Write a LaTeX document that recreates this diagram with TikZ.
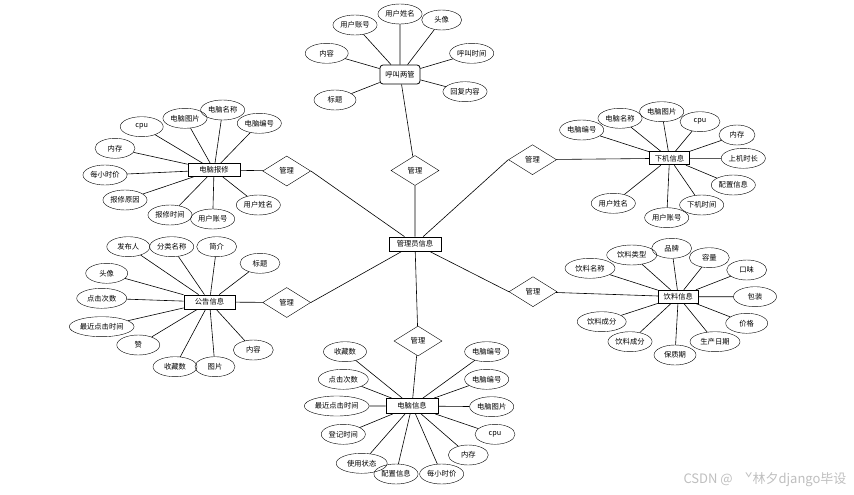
\documentclass[tikz,border=0pt]{standalone}
\usepackage{fontspec}
\setmainfont{Noto Sans CJK SC}
\usetikzlibrary{shapes.geometric}
\tikzset{
  attr/.style={draw,ellipse,inner sep=1pt,minimum width=40pt,minimum height=20pt,font=\fontsize{7.3}{8}\selectfont},
  ent/.style={draw,thick,rectangle,inner sep=1pt,minimum width=52pt,minimum height=14pt,font=\fontsize{7.3}{8}\selectfont},
  rel/.style={draw,diamond,inner sep=0pt,minimum width=48pt,minimum height=30pt,font=\fontsize{7.3}{8}\selectfont},
  link/.style={draw,line width=0.6pt}
}
\begin{document}
\begin{tikzpicture}[x=1pt,y=-1pt]
\useasboundingbox[fill=white] (0,0) rectangle (854,495);

% centre
\node[ent] (admin) at (415,244) {管理员信息};

% relations
\node[rel] (mTop) at (415,170.5) {管理};
\node[rel] (mRep) at (286.7,171) {管理};
\node[rel] (mOff) at (532.5,159.7) {管理};
\node[rel] (mNote) at (286.7,302.5) {管理};
\node[rel] (mDrink) at (533,291.7) {管理};
\node[rel] (mPc) at (418,341) {管理};

% entities
\node[ent,rounded corners=3pt,minimum width=40pt,minimum height=19pt] (call) at (400,74.5) {呼叫两管};
\node[ent,minimum height=13pt] (rep) at (214,170) {电脑报修};
\node[ent,minimum width=40pt,minimum height=13pt] (off) at (669.5,158.3) {下机信息};
\node[ent,minimum width=51pt] (note) at (209.5,302) {公告信息};
\node[ent,minimum width=40pt,minimum height=13pt] (drink) at (678.3,296.7) {饮料信息};
\node[ent,minimum height=15pt] (pc) at (412,406) {电脑信息};

% call attributes
\node[attr] (c1) at (355,25) {用户账号};
\node[attr] (c2) at (400,14) {用户姓名};
\node[attr] (c3) at (441.7,20) {头像};
\node[attr,minimum width=43pt] (c4) at (326.7,53.3) {内容};
\node[attr] (c5) at (471.7,53.3) {呼叫时间};
\node[attr] (c6) at (465,91.7) {回复内容};
\node[attr,minimum width=42pt] (c7) at (335,100) {标题};

% repair attributes
\node[attr,minimum width=43pt] (r1) at (141.7,126.7) {cpu};
\node[attr] (r2) at (185,118.3) {电脑图片};
\node[attr] (r3) at (222.7,110) {电脑名称};
\node[attr] (r4) at (259.3,123.3) {电脑编号};
\node[attr] (r5) at (115,148.3) {内存};
\node[attr] (r6) at (105,175) {每小时价};
\node[attr] (r7) at (125,200) {报修原因};
\node[attr] (r8) at (170,215) {报修时间};
\node[attr] (r9) at (212.7,219) {用户账号};
\node[attr] (r10) at (258.3,205) {用户姓名};

% offline attributes
\node[attr] (o1) at (581.7,130) {电脑编号};
\node[attr] (o2) at (620,118.3) {电脑名称};
\node[attr] (o3) at (661.7,111.7) {电脑图片};
\node[attr] (o4) at (700,121.7) {cpu};
\node[attr,minimum width=36pt] (o5) at (737,135) {内存};
\node[attr] (o6) at (743.3,158.3) {上机时长};
\node[attr] (o7) at (733.3,185) {配置信息};
\node[attr] (o8) at (701.7,205) {下机时间};
\node[attr] (o9) at (666.7,217.7) {用户账号};
\node[attr] (o10) at (613.3,203.3) {用户姓名};

% notice attributes
\node[attr,minimum width=43pt] (n1) at (128.3,246.7) {发布人};
\node[attr] (n2) at (171.7,246.7) {分类名称};
\node[attr] (n3) at (216.7,246.7) {简介};
\node[attr] (n4) at (260,263.3) {标题};
\node[attr,minimum width=42pt] (n5) at (106.7,273.3) {头像};
\node[attr,minimum width=50pt] (n6) at (101.7,298.3) {点击次数};
\node[attr] (n7) at (101.7,326.7) {最近点击时间};
\node[attr,minimum width=43pt] (n8) at (138.3,345) {赞};
\node[attr,minimum width=44pt] (n9) at (175,366.7) {收藏数};
\node[attr] (n10) at (215,366.7) {图片};
\node[attr] (n11) at (253.3,350) {内容};

% drink attributes
\node[attr,minimum width=50pt] (d1) at (590,268.3) {饮料名称};
\node[attr,minimum width=50pt] (d2) at (631.7,255) {饮料类型};
\node[attr] (d3) at (671.7,248.3) {品牌};
\node[attr] (d4) at (709.3,257.7) {容量};
\node[attr] (d5) at (746.7,270) {口味};
\node[attr,minimum width=43pt] (d6) at (755,296.7) {包装};
\node[attr,minimum width=42pt] (d7) at (746.7,323.3) {价格};
\node[attr,minimum width=50pt] (d8) at (715,341.7) {生产日期};
\node[attr,minimum width=42pt] (d9) at (675,355) {保质期};
\node[attr] (d10) at (630,341.7) {饮料成分};
\node[attr,minimum width=49pt] (d11) at (601.7,321.7) {饮料成分};

% pc attributes
\node[attr,minimum width=43pt] (p1) at (345,351.7) {收藏数};
\node[attr,minimum width=50pt] (p2) at (343.3,379.3) {点击次数};
\node[attr] (p3) at (336.7,406) {最近点击时间};
\node[attr] (p4) at (343.3,434.3) {登记时间};
\node[attr,minimum width=51pt] (p5) at (361.7,463.3) {使用状态};
\node[attr] (p6) at (396,474) {配置信息};
\node[attr] (p7) at (441.7,474) {每小时价};
\node[attr] (p8) at (468.3,455) {内存};
\node[attr] (p9) at (495,434.3) {cpu};
\node[attr,minimum width=42pt] (p10) at (491.7,406.7) {电脑图片};
\node[attr,minimum width=43pt] (p11) at (486.7,379.3) {电脑编号};
\node[attr,minimum width=43pt] (p12) at (486.7,351.7) {电脑编号};

% admin to relations to entities
\draw[link] (admin) -- (mTop) (mTop) -- (call);
\draw[link] (admin) -- (mRep.east) (mRep) -- (rep);
\draw[link] (admin) -- (mOff.west) (mOff) -- (off);
\draw[link] (admin) -- (mNote.east) (mNote) -- (note);
\draw[link] (admin) -- (mDrink.west) (mDrink) -- (drink);
\draw[link] (admin) -- (mPc);
\draw[link] (mPc) -- (pc);

% attribute lines
\draw[link] (call) -- (c1) (call) -- (c2) (call) -- (c3) (call) -- (c4)
  (call) -- (c5) (call) -- (c6) (call) -- (c7);
\draw[link] (rep) -- (r1) (rep) -- (r2) (rep) -- (r3) (rep) -- (r4) (rep) -- (r5)
  (rep) -- (r6) (rep) -- (r7) (rep) -- (r8) (rep) -- (r9) (rep) -- (r10);
\draw[link] (off) -- (o1) (off) -- (o2) (off) -- (o3) (off) -- (o4) (off) -- (o5)
  (off) -- (o6) (off) -- (o7) (off) -- (o8) (off) -- (o9) (off) -- (o10);
\draw[link] (note) -- (n1) (note) -- (n2) (note) -- (n3) (note) -- (n4) (note) -- (n5)
  (note) -- (n6) (note) -- (n7) (note) -- (n8) (note) -- (n9) (note) -- (n10) (note) -- (n11);
\draw[link] (drink) -- (d1) (drink) -- (d2) (drink) -- (d3) (drink) -- (d4) (drink) -- (d5)
  (drink) -- (d6) (drink) -- (d7) (drink) -- (d8) (drink) -- (d9) (drink) -- (d10) (drink) -- (d11);
\draw[link] (pc) -- (p1) (pc) -- (p2) (pc) -- (p3) (pc) -- (p4) (pc) -- (p5) (pc) -- (p6)
  (pc) -- (p7) (pc) -- (p8) (pc) -- (p9) (pc) -- (p10) (pc) -- (p11) (pc) -- (p12);

% watermark
\node[text=black!25,font=\fontsize{13}{14}\selectfont,anchor=east] (mark) at (850,480) {CSDN @\hspace{12pt}ˇ林夕django毕设};
\end{tikzpicture}
\end{document}
